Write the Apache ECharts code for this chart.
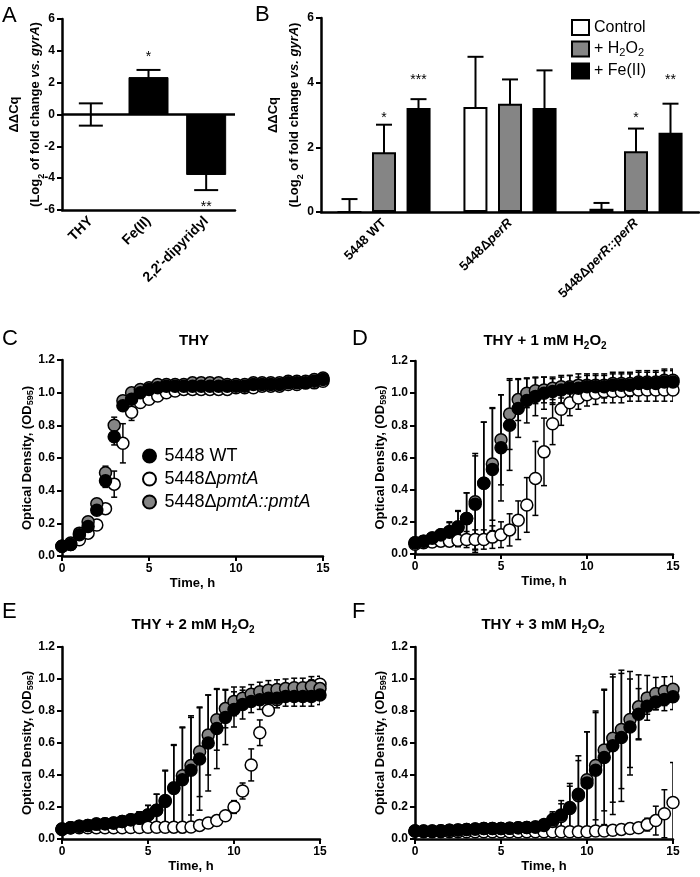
<!DOCTYPE html>
<html><head><meta charset="utf-8">
<script src="https://cdn.jsdelivr.net/npm/echarts@6/dist/echarts.min.js"></script>
<style>html,body{margin:0;padding:0;background:#fff}#c{width:700px;height:877px}</style>
</head><body><div id="c"></div>
<script>
// ---------- Panel A ----------
const catsA = ['THY', 'Fe(II)', "2,2'-dipyridyl"];
const valsA = [0, 2.35, -3.8];
const errA = [0.7, 0.45, 0.95];
const starsA = ['', '*', '**'];
const starYA = [null, 3.8, -5.6];

// ---------- Panel B ----------
const catsB = ['5448 WT', '5448ΔperR', '5448ΔperR::perR'];
const ctrlB = [0, 3.25, 0.1];
const ctrlErrB = [0.4, 1.55, 0.18];
const h2o2B = [1.85, 3.35, 1.88];
const h2o2ErrB = [0.85, 0.75, 0.7];
const feB = [3.22, 3.22, 2.45];
const feErrB = [0.27, 1.16, 0.9];
const starsH2o2B = ['*', '', '*'];
const starYH2o2B = [3.0, null, 3.0];
const starsFeB = ['***', '', '**'];
const starYFeB = [4.2, null, 4.2];

// ---------- Growth curves ----------
const times = [0,0.5,1,1.5,2,2.5,3,3.5,4,4.5,5,5.5,6,6.5,7,7.5,8,8.5,9,9.5,10,10.5,11,11.5,12,12.5,13,13.5,14,14.5,15];

// C: THY
const wtC = [0.06,0.07,0.13,0.18,0.28,0.46,0.73,0.92,0.96,1.00,1.02,1.03,1.04,1.04,1.04,1.04,1.04,1.04,1.04,1.04,1.04,1.04,1.05,1.05,1.05,1.05,1.06,1.06,1.06,1.07,1.08];
const wtErrC = [0.02,0.02,0.02,0.02,0.02,0.04,0.05,0.03,0.03,0.02,0.02,0.02,0.02,0.02,0.02,0.02,0.02,0.02,0.02,0.02,0.02,0.02,0.02,0.02,0.02,0.02,0.02,0.03,0.03,0.03,0.03];
const mutC = [0.06,0.07,0.10,0.14,0.19,0.29,0.44,0.69,0.88,0.94,0.96,0.98,1.00,1.01,1.02,1.02,1.02,1.02,1.02,1.02,1.03,1.03,1.03,1.04,1.04,1.04,1.05,1.05,1.06,1.06,1.07];
const mutErrC = [0.02,0.02,0.02,0.02,0.02,0.02,0.08,0.12,0.05,0.02,0.02,0.02,0.02,0.02,0.02,0.02,0.02,0.02,0.02,0.02,0.02,0.02,0.02,0.02,0.02,0.02,0.02,0.03,0.03,0.03,0.03];
const compC = [0.06,0.08,0.14,0.21,0.32,0.51,0.80,0.95,1.00,1.02,1.03,1.05,1.05,1.05,1.05,1.06,1.06,1.06,1.06,1.05,1.05,1.05,1.06,1.06,1.06,1.06,1.07,1.07,1.07,1.08,1.09];
const compErrC = [0.02,0.02,0.02,0.02,0.02,0.04,0.05,0.03,0.02,0.02,0.02,0.02,0.02,0.02,0.02,0.02,0.02,0.02,0.02,0.02,0.02,0.02,0.02,0.02,0.02,0.02,0.03,0.03,0.03,0.03,0.03];

// D: THY + 1 mM H2O2
const wtD = [0.07,0.08,0.10,0.12,0.135,0.165,0.22,0.31,0.44,0.525,0.66,0.80,0.905,0.955,0.98,1.00,1.01,1.02,1.03,1.03,1.04,1.04,1.04,1.05,1.05,1.05,1.06,1.06,1.06,1.07,1.07];
const wtErrD = [0.03,0.03,0.03,0.03,0.06,0.10,0.16,0.30,0.38,0.38,0.33,0.28,0.18,0.14,0.12,0.10,0.08,0.08,0.08,0.07,0.07,0.07,0.07,0.07,0.07,0.07,0.07,0.07,0.07,0.07,0.07];
const mutD = [0.06,0.07,0.075,0.08,0.08,0.085,0.09,0.09,0.09,0.105,0.12,0.15,0.21,0.305,0.47,0.635,0.81,0.90,0.94,0.97,0.99,1.00,1.01,1.01,1.01,1.02,1.02,1.02,1.02,1.02,1.02];
const mutErrD = [0.03,0.03,0.03,0.03,0.03,0.04,0.05,0.06,0.06,0.07,0.08,0.10,0.12,0.17,0.23,0.21,0.13,0.10,0.08,0.07,0.07,0.07,0.07,0.07,0.07,0.07,0.07,0.07,0.07,0.07,0.07];
const compD = [0.07,0.08,0.10,0.12,0.14,0.17,0.22,0.325,0.44,0.56,0.71,0.87,0.96,1.00,1.015,1.02,1.03,1.04,1.04,1.05,1.05,1.05,1.05,1.06,1.06,1.06,1.07,1.07,1.07,1.08,1.08];
const compErrD = [0.03,0.03,0.03,0.03,0.06,0.10,0.16,0.30,0.38,0.35,0.28,0.22,0.13,0.09,0.08,0.08,0.07,0.07,0.07,0.07,0.07,0.07,0.07,0.07,0.07,0.07,0.07,0.07,0.07,0.07,0.07];

// E: THY + 2 mM H2O2
const wtE = [0.062,0.07,0.08,0.085,0.093,0.095,0.10,0.11,0.12,0.13,0.15,0.18,0.235,0.315,0.37,0.43,0.50,0.60,0.69,0.76,0.81,0.84,0.86,0.87,0.88,0.88,0.89,0.89,0.89,0.89,0.90];
const wtErrE = [0.02,0.02,0.02,0.02,0.02,0.02,0.02,0.02,0.02,0.04,0.06,0.10,0.19,0.27,0.33,0.33,0.32,0.30,0.25,0.17,0.11,0.09,0.07,0.06,0.06,0.06,0.06,0.06,0.06,0.06,0.06];
const mutE = [0.06,0.07,0.07,0.07,0.07,0.07,0.07,0.07,0.072,0.072,0.073,0.073,0.073,0.074,0.074,0.075,0.085,0.10,0.115,0.145,0.20,0.30,0.463,0.664,0.805,0.87,0.90,0.92,0.935,0.955,0.967];
const mutErrE = [0.01,0.01,0.01,0.01,0.01,0.01,0.01,0.01,0.01,0.01,0.01,0.01,0.01,0.01,0.01,0.01,0.01,0.01,0.02,0.02,0.04,0.05,0.10,0.08,0.03,0.03,0.03,0.03,0.03,0.04,0.05];
const compE = [0.062,0.07,0.08,0.085,0.093,0.095,0.10,0.11,0.12,0.13,0.15,0.18,0.24,0.32,0.395,0.46,0.545,0.65,0.745,0.815,0.86,0.88,0.905,0.92,0.93,0.935,0.94,0.945,0.945,0.955,0.94];
const compErrE = [0.02,0.02,0.02,0.02,0.02,0.02,0.02,0.02,0.02,0.04,0.06,0.10,0.19,0.27,0.30,0.31,0.28,0.25,0.19,0.12,0.09,0.07,0.06,0.06,0.06,0.06,0.06,0.06,0.06,0.06,0.06];

// F: THY + 3 mM H2O2
const wtF = [0.05,0.05,0.05,0.052,0.055,0.057,0.06,0.062,0.065,0.065,0.065,0.067,0.07,0.072,0.075,0.085,0.12,0.15,0.197,0.28,0.35,0.43,0.51,0.583,0.635,0.70,0.78,0.83,0.857,0.872,0.889];
const wtErrF = [0.01,0.01,0.01,0.01,0.01,0.01,0.01,0.01,0.01,0.01,0.01,0.01,0.01,0.01,0.01,0.03,0.05,0.09,0.15,0.24,0.32,0.36,0.42,0.43,0.40,0.30,0.16,0.05,0.05,0.07,0.08];
const mutF = [0.05,0.045,0.045,0.045,0.045,0.045,0.045,0.045,0.045,0.045,0.045,0.045,0.045,0.045,0.045,0.045,0.045,0.045,0.045,0.045,0.045,0.05,0.05,0.055,0.06,0.065,0.07,0.09,0.115,0.158,0.228];
const mutErrF = [0.01,0.01,0.01,0.01,0.01,0.01,0.01,0.01,0.01,0.01,0.01,0.01,0.01,0.01,0.01,0.01,0.01,0.01,0.01,0.01,0.01,0.01,0.01,0.01,0.01,0.01,0.02,0.04,0.09,0.15,0.25];
const compF = [0.05,0.05,0.05,0.052,0.055,0.057,0.06,0.062,0.065,0.065,0.065,0.067,0.07,0.072,0.075,0.09,0.11,0.14,0.19,0.27,0.37,0.46,0.556,0.63,0.685,0.747,0.826,0.882,0.91,0.924,0.936];
const compErrF = [0.01,0.01,0.01,0.01,0.01,0.01,0.01,0.01,0.01,0.01,0.01,0.01,0.01,0.01,0.01,0.03,0.05,0.08,0.14,0.22,0.30,0.34,0.38,0.40,0.37,0.30,0.20,0.14,0.10,0.09,0.08];

const strainNames = ['5448 WT', '5448ΔpmtA', '5448ΔpmtA::pmtA'];
const treatNames = ['Control', '+ H2O2', '+ Fe(II)'];
const panelTitles = ['THY', 'THY + 1 mM H2O2', 'THY + 2 mM H2O2', 'THY + 3 mM H2O2'];

// ---------- styling ----------
const FONT = '"Liberation Sans", Arial, Helvetica, sans-serif';
const BLACK = '#000';
const GRAY = '#858585';

const grids = [
  {left: 62, top: 19, width: 173, height: 191},
  {left: 321, top: 18, width: 378, height: 194},
  {left: 62, top: 360, width: 261, height: 196},
  {left: 415, top: 361, width: 258, height: 193},
  {left: 62, top: 647, width: 258, height: 192},
  {left: 415, top: 647, width: 258, height: 192}
];

const axisLine = {show: true, onZero: false, lineStyle: {color: BLACK, width: 2.5}};
const axisTick = {show: true, inside: false, length: 5, lineStyle: {color: BLACK, width: 2}};
const tickLabel = {color: BLACK, fontFamily: FONT, fontWeight: 'bold', fontSize: 12, margin: 7};
const nameRich = {
  b: {fontFamily: FONT, fontWeight: 'bold', fontSize: 13, color: BLACK, lineHeight: 21},
  bi: {fontFamily: FONT, fontWeight: 'bold', fontStyle: 'italic', fontSize: 13, color: BLACK, lineHeight: 21},
  s: {fontFamily: FONT, fontWeight: 'bold', fontSize: 9, color: BLACK, lineHeight: 12, verticalAlign: 'bottom'}
};
const odRich = {
  b: {fontFamily: FONT, fontWeight: 'bold', fontSize: 13, color: BLACK, lineHeight: 16},
  s: {fontFamily: FONT, fontWeight: 'bold', fontSize: 9, color: BLACK, lineHeight: 9, verticalAlign: 'bottom'}
};
const catRichA = {
  b: {fontFamily: FONT, fontWeight: 'bold', fontSize: 14, color: BLACK}
};
const catRichB = {
  b: {fontFamily: FONT, fontWeight: 'bold', fontSize: 13, color: BLACK},
  bi: {fontFamily: FONT, fontWeight: 'bold', fontStyle: 'italic', fontSize: 13, color: BLACK}
};
const ddcqName = '{b|ΔΔCq}\n{b|(Log}{s|2}{b| of fold change }{bi|vs. gyrA}{b|)}';
const odName = '{b|Optical Density, (OD}{s|595}{b|)}';

function catLabelB(v) {
  if (v === '5448 WT') return '{b|5448 WT}';
  const rest = v.replace('5448Δ', '');
  return '{b|5448Δ}{bi|' + rest + '}';
}

// ---------- axes ----------
const xAxes = [], yAxes = [];
xAxes.push({type: 'category', gridIndex: 0, data: catsA, boundaryGap: true,
  axisLine, axisTick: {show: false},
  axisLabel: {rotate: 45, interval: 0, margin: 9, rich: catRichA, formatter: v => '{b|' + v + '}'}});
yAxes.push({type: 'value', gridIndex: 0, min: -6, max: 6, interval: 2, splitLine: {show: false},
  axisLine, axisTick, axisLabel: tickLabel,
  name: ddcqName, nameLocation: 'middle', nameRotate: 90, nameGap: 16, nameMoveOverlap: false,
  nameTextStyle: {rich: nameRich}});
xAxes.push({type: 'category', gridIndex: 1, data: catsB, boundaryGap: true,
  axisLine, axisTick: {show: false},
  axisLabel: {rotate: 45, interval: 0, margin: 9, rich: catRichB, formatter: catLabelB}});
yAxes.push({type: 'value', gridIndex: 1, min: 0, max: 6, interval: 2, splitLine: {show: false},
  axisLine, axisTick, axisLabel: tickLabel,
  name: ddcqName, nameLocation: 'middle', nameRotate: 90, nameGap: 16, nameMoveOverlap: false,
  nameTextStyle: {rich: nameRich}});
for (let g = 2; g < 6; g++) {
  xAxes.push({type: 'value', gridIndex: g, min: 0, max: 15, interval: 5, splitLine: {show: false},
    axisLine, axisTick, axisLabel: tickLabel,
    name: 'Time, h', nameLocation: 'middle', nameGap: 19, nameMoveOverlap: false,
    nameTextStyle: {fontFamily: FONT, fontWeight: 'bold', fontSize: 13, color: BLACK, lineHeight: 16}});
  yAxes.push({type: 'value', gridIndex: g, min: 0, max: 1.2, interval: 0.2, splitLine: {show: false},
    axisLine, axisTick, axisLabel: Object.assign({}, tickLabel, {formatter: v => v.toFixed(1)}),
    name: odName, nameLocation: 'middle', nameRotate: 90, nameGap: 27, nameMoveOverlap: false,
    nameTextStyle: {rich: odRich}});
}

// ---------- render helpers ----------
function barErrRender(vals, errs, off, halfCap, floor) {
  return function (params, api) {
    const i = params.dataIndex;
    const v = vals[i], e = errs[i];
    const hi = api.coord([i, v + e]);
    const lo = api.coord([i, Math.max(v - e, floor)]);
    const x = hi[0] + off;
    const st = {stroke: BLACK, lineWidth: 2};
    const ch = [{type: 'line', shape: {x1: x, y1: hi[1], x2: x, y2: lo[1]}, style: st},
      {type: 'line', shape: {x1: x - halfCap, y1: hi[1], x2: x + halfCap, y2: hi[1]}, style: st}];
    if (v - e > floor) ch.push({type: 'line', shape: {x1: x - halfCap, y1: lo[1], x2: x + halfCap, y2: lo[1]}, style: st});
    return {type: 'group', children: ch};
  };
}
function starRender(texts, ys, off) {
  return function (params, api) {
    const i = params.dataIndex;
    if (ys[i] == null || !texts[i]) return null;
    const p = api.coord([i, ys[i]]);
    return {type: 'text', x: p[0] + off, y: p[1] + 3.5,
      style: {text: texts[i], font: '14px ' + FONT, fill: BLACK, align: 'center', verticalAlign: 'middle'}};
  };
}
function ptErrRender(vals, errs) {
  return function (params, api) {
    const i = params.dataIndex;
    const v = vals[i], e = errs[i];
    const hi = api.coord([times[i], v + e]);
    const lo = api.coord([times[i], v - e]);
    const st = {stroke: BLACK, lineWidth: 1.5};
    return {type: 'group', children: [
      {type: 'line', shape: {x1: hi[0], y1: hi[1], x2: lo[0], y2: lo[1]}, style: st},
      {type: 'line', shape: {x1: hi[0] - 3, y1: hi[1], x2: hi[0] + 3, y2: hi[1]}, style: st},
      {type: 'line', shape: {x1: lo[0] - 3, y1: lo[1], x2: lo[0] + 3, y2: lo[1]}, style: st}
    ]};
  };
}
const idx = arr => arr.map((v, i) => [i, v == null ? 0 : v]);

// ---------- series ----------
const series = [];
// Panel A
series.push({type: 'custom', xAxisIndex: 0, yAxisIndex: 0, z: 2, data: idx(valsA),
  renderItem: barErrRender(valsA, errA, 0, 12, -6)});
series.push({type: 'bar', xAxisIndex: 0, yAxisIndex: 0, z: 3, data: valsA, barWidth: 40,
  itemStyle: {color: BLACK, borderColor: BLACK, borderWidth: 1},
  markLine: {silent: true, symbol: 'none', label: {show: false},
    lineStyle: {color: BLACK, width: 2.5, type: 'solid'}, data: [{yAxis: 0}]}});
series.push({type: 'custom', xAxisIndex: 0, yAxisIndex: 0, z: 5, data: idx(starYA),
  renderItem: starRender(starsA, starYA, 0)});

// Panel B
const bOff = 34.5;
const bSets = [
  {name: treatNames[0], vals: ctrlB, errs: ctrlErrB, color: '#fff'},
  {name: treatNames[1], vals: h2o2B, errs: h2o2ErrB, color: GRAY},
  {name: treatNames[2], vals: feB, errs: feErrB, color: BLACK}
];
bSets.forEach((s, k) => {
  series.push({type: 'custom', xAxisIndex: 1, yAxisIndex: 1, z: 2, data: idx(s.vals),
    renderItem: barErrRender(s.vals, s.errs, (k - 1) * bOff, 8, 0)});
});
bSets.forEach((s) => {
  series.push({type: 'bar', name: s.name, xAxisIndex: 1, yAxisIndex: 1, z: 3, data: s.vals,
    barWidth: 24, barGap: '44%',
    itemStyle: {color: s.color, borderColor: BLACK, borderWidth: 2}});
});
series.push({type: 'custom', xAxisIndex: 1, yAxisIndex: 1, z: 5, data: idx(starYH2o2B),
  renderItem: starRender(starsH2o2B, starYH2o2B, 0)});
series.push({type: 'custom', xAxisIndex: 1, yAxisIndex: 1, z: 5, data: idx(starYFeB),
  renderItem: starRender(starsFeB, starYFeB, bOff)});

// Growth panels C-F
const panels = [
  {g: 2, wt: wtC, wtE: wtErrC, mut: mutC, mutE: mutErrC, comp: compC, compE: compErrC},
  {g: 3, wt: wtD, wtE: wtErrD, mut: mutD, mutE: mutErrD, comp: compD, compE: compErrD},
  {g: 4, wt: wtE, wtE: wtErrE, mut: mutE, mutE: mutErrE, comp: compE, compE: compErrE},
  {g: 5, wt: wtF, wtE: wtErrF, mut: mutF, mutE: mutErrF, comp: compF, compE: compErrF}
];
panels.forEach(p => {
  const sets = [
    {name: strainNames[1], vals: p.mut, errs: p.mutE, color: '#fff', z: 4},
    {name: strainNames[2], vals: p.comp, errs: p.compE, color: GRAY, z: 5},
    {name: strainNames[0], vals: p.wt, errs: p.wtE, color: BLACK, z: 6}
  ];
  sets.forEach(s => {
    series.push({type: 'custom', xAxisIndex: p.g, yAxisIndex: p.g, z: 2, clip: true,
      data: times.map((t, i) => [t, s.vals[i]]), renderItem: ptErrRender(s.vals, s.errs)});
  });
  sets.forEach(s => {
    series.push({type: 'scatter', name: s.name, xAxisIndex: p.g, yAxisIndex: p.g, z: s.z,
      symbol: 'circle', symbolSize: 12,
      data: times.map((t, i) => [t, s.vals[i]]),
      itemStyle: {color: s.color, borderColor: BLACK, borderWidth: 1.5, opacity: 1}});
  });
});

// ---------- graphic texts ----------
const letterFont = '22px ' + FONT;
const titleRich = {
  b: {fontFamily: FONT, fontWeight: 'bold', fontSize: 15, color: BLACK, lineHeight: 20},
  s: {fontFamily: FONT, fontWeight: 'bold', fontSize: 10, color: BLACK, lineHeight: 12, verticalAlign: 'bottom'}
};
function titleText(t) {
  if (t.endsWith(' H2O2')) return '{b|' + t.slice(0, -4) + 'H}{s|2}{b|O}{s|2}';
  return '{b|' + t + '}';
}
const letters = [['A', 2, 16], ['B', 255, 15], ['C', 2, 339], ['D', 352, 339], ['E', 2, 612], ['F', 352, 612]];
const titlePos = [[194, 341], [545, 341], [193, 625], [543, 625]];
const graphic = [];
letters.forEach(l => graphic.push({type: 'text', x: l[1], y: l[2],
  style: {text: l[0], font: letterFont, fill: BLACK, align: 'left', verticalAlign: 'middle'}}));
panelTitles.forEach((t, i) => graphic.push({type: 'text', x: titlePos[i][0], y: titlePos[i][1],
  style: {text: titleText(t), rich: titleRich, align: 'center', verticalAlign: 'middle'}}));

// ---------- legends ----------
const legRichB = {
  t: {fontFamily: FONT, fontSize: 16, color: BLACK, lineHeight: 18},
  s: {fontFamily: FONT, fontSize: 11, color: BLACK, lineHeight: 11, verticalAlign: 'bottom'}
};
const legRichC = {
  n: {fontFamily: FONT, fontSize: 18, color: BLACK, lineHeight: 20},
  i: {fontFamily: FONT, fontSize: 18, fontStyle: 'italic', color: BLACK, lineHeight: 20}
};

const option = {
  animation: false,
  backgroundColor: '#fff',
  grid: grids,
  xAxis: xAxes,
  yAxis: yAxes,
  series: series,
  graphic: graphic,
  legend: [
    {data: treatNames, orient: 'vertical', left: 566, top: 14, itemWidth: 17, itemHeight: 15, itemGap: 4.5,
      icon: 'rect', selectedMode: false,
      textStyle: {rich: legRichB},
      formatter: n => n === '+ H2O2' ? '{t|+ H}{s|2}{t|O}{s|2}' : '{t|' + n + '}'},
    {data: strainNames, orient: 'vertical', left: 137, top: 442, itemWidth: 20, itemHeight: 13, itemGap: 5,
      icon: 'circle', selectedMode: false,
      textStyle: {rich: legRichC},
      formatter: n => n === '5448 WT' ? '{n|5448 WT}' : '{n|5448Δ}{i|' + n.replace('5448Δ', '') + '}'}
  ]
};
const chart = echarts.init(document.getElementById('c'), null, {renderer: 'canvas'});
chart.setOption(option);
</script>
</body></html>
